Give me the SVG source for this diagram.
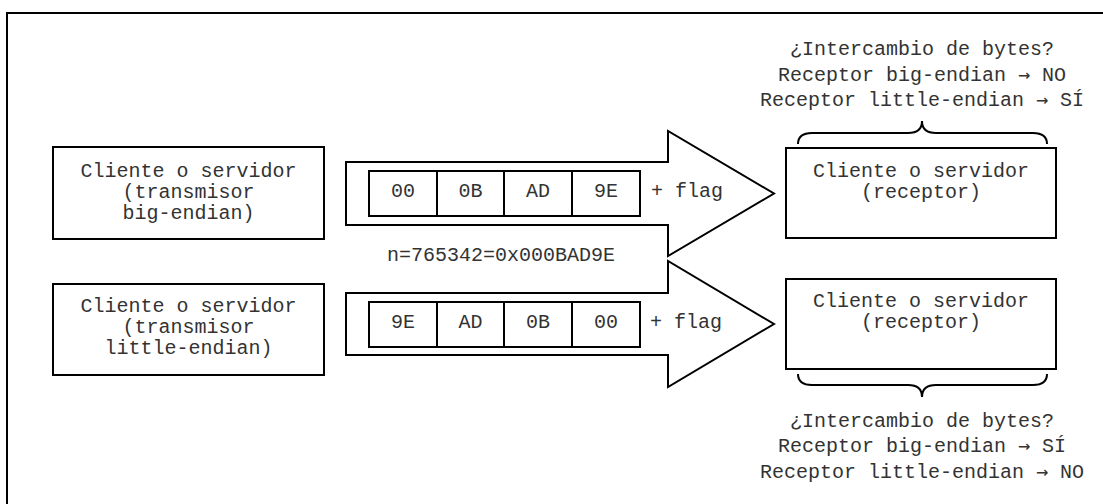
<svg xmlns="http://www.w3.org/2000/svg" width="1103" height="504" viewBox="0 0 1103 504">
  <style>
    .frame { fill: none; stroke: #000; stroke-width: 2; }
    .box { fill: #fff; stroke: #000; stroke-width: 2; }
    .arrow { fill: #fff; stroke: #000; stroke-width: 2; stroke-linejoin: miter; }
    .cell { fill: #fff; stroke: #000; stroke-width: 2; }
    .brace { fill: none; stroke: #000; stroke-width: 2; }
    text { font-family: "Liberation Mono", "Courier New", monospace; font-size: 20px; fill: #333; }
    .c { text-anchor: middle; }
    .sym { font-family: "DejaVu Sans Mono", "Liberation Mono", monospace; }
  </style>
  <rect width="1103" height="504" fill="#fff"/>
  <!-- outer frame (top and left edges visible) -->
  <rect class="frame" x="7" y="13" width="1110" height="510"/>

  <g id="connectors">
    <!-- big-endian transmission arrow -->
    <g id="arrow-be">
      <path class="arrow" d="M346,162 L668,162 L668,131 L774,193.5 L668,256 L668,225 L346,225 Z"/>
      <rect class="cell" x="369" y="171" width="68" height="45"/>
      <rect class="cell" x="437" y="171" width="67" height="45"/>
      <rect class="cell" x="504" y="171" width="68" height="45"/>
      <rect class="cell" x="572" y="171" width="68" height="45"/>
      <text class="c" x="403" y="197">00</text>
      <text class="c" x="470.5" y="197">0B</text>
      <text class="c" x="538" y="197">AD</text>
      <text class="c" x="606" y="197">9E</text>
      <text x="651" y="197">+ flag</text>
    </g>
    <!-- little-endian transmission arrow -->
    <g id="arrow-le">
      <path class="arrow" d="M346,293 L668,293 L668,261 L774,324 L668,387 L668,355 L346,355 Z"/>
      <rect class="cell" x="369" y="302" width="68" height="45"/>
      <rect class="cell" x="437" y="302" width="67" height="45"/>
      <rect class="cell" x="504" y="302" width="68" height="45"/>
      <rect class="cell" x="572" y="302" width="68" height="45"/>
      <text class="c" x="403" y="328">9E</text>
      <text class="c" x="470.5" y="328">AD</text>
      <text class="c" x="538" y="328">0B</text>
      <text class="c" x="606" y="328">00</text>
      <text x="650" y="328">+ flag</text>
    </g>
  </g>

  <g id="value-label">
    <text class="c" x="501" y="261">n=765342=0x000BAD9E</text>
  </g>

  <g id="sender-be">
    <rect class="box" x="53" y="147" width="271" height="92"/>
    <text class="c" x="188.5" y="177">Cliente o servidor</text>
    <text class="c" x="188.5" y="198">(transmisor</text>
    <text class="c" x="188.5" y="219">big-endian)</text>
  </g>

  <g id="sender-le">
    <rect class="box" x="53" y="284" width="271" height="91"/>
    <text class="c" x="188.5" y="312">Cliente o servidor</text>
    <text class="c" x="188.5" y="333">(transmisor</text>
    <text class="c" x="188.5" y="354">little-endian)</text>
  </g>

  <g id="receiver-top">
    <rect class="box" x="786" y="148" width="270" height="90"/>
    <text class="c" x="921" y="177">Cliente o servidor</text>
    <text class="c" x="921" y="198">(receptor)</text>
  </g>

  <g id="receiver-bottom">
    <rect class="box" x="786" y="279" width="270" height="90"/>
    <text class="c" x="921" y="307">Cliente o servidor</text>
    <text class="c" x="921" y="328">(receptor)</text>
  </g>

  <g id="note-top">
    <path class="brace" d="M798,144 Q798,133 812,133 L908,133 Q922,133 922,121 Q922,133 936,133 L1033,133 Q1047,133 1047,144"/>
    <text class="c" x="922" y="54.5">¿Intercambio de bytes?</text>
    <text class="c" x="922" y="80.5">Receptor big-endian <tspan class="sym">→</tspan> NO</text>
    <text class="c" x="922" y="106">Receptor little-endian <tspan class="sym">→</tspan> SÍ</text>
  </g>

  <g id="note-bottom">
    <path class="brace" d="M798,374 Q798,385 812,385 L908,385 Q922,385 922,397 Q922,385 936,385 L1033,385 Q1047,385 1047,374"/>
    <text class="c" x="922" y="426.5">¿Intercambio de bytes?</text>
    <text class="c" x="922" y="452">Receptor big-endian <tspan class="sym">→</tspan> SÍ</text>
    <text class="c" x="922" y="477.5">Receptor little-endian <tspan class="sym">→</tspan> NO</text>
  </g>
</svg>
